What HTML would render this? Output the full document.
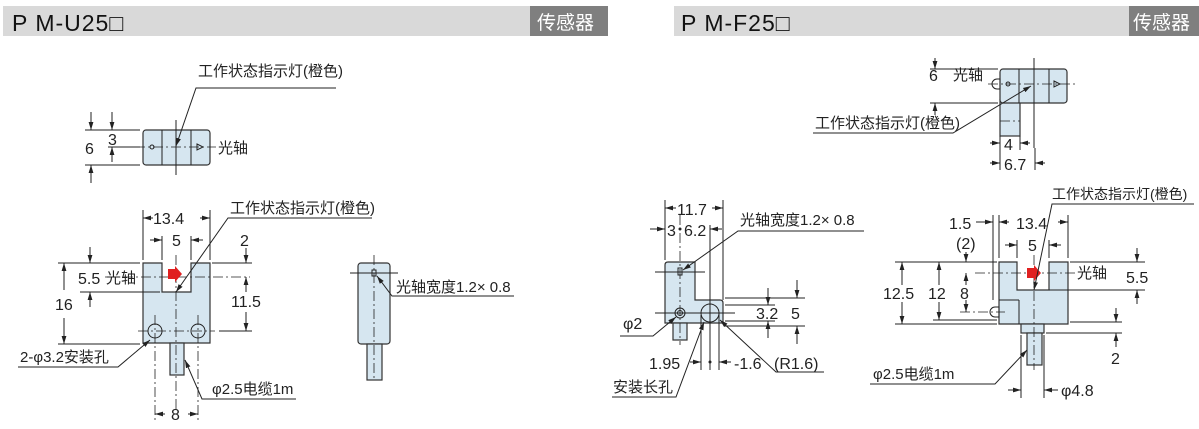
<!DOCTYPE html>
<html><head><meta charset="utf-8"><style>
html,body{margin:0;padding:0;background:#fff;}
svg{display:block;}
text{font-family:"Liberation Sans","Noto Sans CJK SC",sans-serif;font-size:15px;fill:#222;}
.d{font-size:16px;}
.h{font-family:"Liberation Sans Narrow","Liberation Sans","Noto Sans CJK SC",sans-serif;font-size:23px;fill:#111;letter-spacing:1px;}
.t{font-size:19px;fill:#fff;}
.l{stroke:#222;stroke-width:1;fill:none;}
.c{stroke:#222;stroke-width:0.8;fill:none;stroke-dasharray:10 3 2 3;}
.b{stroke:#333;stroke-width:1.2;fill:#d6e6f0;}
</style></head><body>
<svg width="1199" height="429" viewBox="0 0 1199 429" xmlns="http://www.w3.org/2000/svg">
<defs><marker id="a" viewBox="0 0 10 6" refX="10" refY="3" markerWidth="8" markerHeight="5" orient="auto"><path d="M0,0L10,3L0,6z" fill="#222"/></marker></defs>
<!-- headers -->
<rect x="3" y="6" width="527" height="30" fill="#d9d9d9"/><rect x="530" y="6" width="78" height="30" fill="#7f7f7f"/>
<text class="h" x="12" y="31">P M-U25□</text><text class="t" x="537" y="29">传感器</text>
<rect x="674" y="6" width="455" height="30" fill="#d9d9d9"/><rect x="1129" y="6" width="70" height="30" fill="#7f7f7f"/>
<text class="h" x="681" y="31">P M-F25□</text><text class="t" x="1133" y="29">传感器</text>

<!-- TOP LEFT -->
<rect class="b" x="143" y="130" width="67" height="35" rx="3"/>
<line class="l" x1="162" y1="130" x2="162" y2="165"/><line class="l" x1="191" y1="130" x2="191" y2="165"/>
<line class="c" x1="135" y1="147" x2="216" y2="147"/><line class="l" x1="176" y1="120" x2="176" y2="175"/>
<circle cx="152" cy="147" r="2" class="l"/><path d="M197,144L203,147L197,150z" class="l"/>
<line class="l" x1="85" y1="130" x2="140" y2="130"/><line class="l" x1="85" y1="165" x2="140" y2="165"/><line class="l" x1="108" y1="147" x2="140" y2="147"/>
<line class="l" x1="91" y1="112" x2="91" y2="130" marker-end="url(#a)"/><line class="l" x1="91" y1="183" x2="91" y2="165" marker-end="url(#a)"/>
<line class="l" x1="112" y1="112" x2="112" y2="130" marker-end="url(#a)"/><line class="l" x1="112" y1="162" x2="112" y2="147" marker-end="url(#a)"/>
<text class="d" x="85" y="154">6</text><text class="d" x="108" y="145">3</text>
<text x="218" y="153">光轴</text>
<text x="198" y="76">工作状态指示灯(橙色)</text><polyline class="l" points="336,88 196,88 176,146" marker-end="url(#a)"/>

<!-- MID LEFT front -->
<path class="b" d="M143,263H162V292H191V263H210V343H143Z"/>
<rect class="b" x="170" y="343" width="14" height="32"/>
<line class="c" x1="176" y1="255" x2="176" y2="410"/>
<line class="c" x1="105" y1="277" x2="250" y2="277"/>
<line class="c" x1="138" y1="331" x2="215" y2="331"/>
<circle class="l" cx="155" cy="331" r="7" fill="#e8f0f5"/><circle class="l" cx="198" cy="331" r="7" fill="#e8f0f5"/>
<line class="c" x1="155" y1="315" x2="155" y2="420"/><line class="c" x1="198" y1="315" x2="198" y2="420"/>
<path d="M168,269h7v-3l7,8l-7,8v-3h-7z" fill="#e02020"/>
<line class="l" x1="143" y1="210" x2="143" y2="260"/><line class="l" x1="210" y1="210" x2="210" y2="260"/>
<line class="l" x1="162" y1="236" x2="162" y2="260"/><line class="l" x1="191" y1="236" x2="191" y2="260"/>
<line class="l" x1="153" y1="218" x2="143" y2="218" marker-end="url(#a)"/><line class="l" x1="200" y1="218" x2="210" y2="218" marker-end="url(#a)"/>
<text class="d" x="153" y="224">13.4</text>
<line class="l" x1="150" y1="240" x2="162" y2="240" marker-end="url(#a)"/><line class="l" x1="203" y1="240" x2="191" y2="240" marker-end="url(#a)"/>
<text class="d" x="172" y="246">5</text>
<line class="l" x1="58" y1="263" x2="140" y2="263"/><line class="l" x1="58" y1="344" x2="140" y2="344"/>
<line class="l" x1="64" y1="290" x2="64" y2="263" marker-end="url(#a)"/><line class="l" x1="64" y1="318" x2="64" y2="344" marker-end="url(#a)"/>
<text class="d" x="55" y="310">16</text>
<line class="l" x1="80" y1="292" x2="160" y2="292"/>
<line class="l" x1="90" y1="247" x2="90" y2="263" marker-end="url(#a)"/><line class="l" x1="90" y1="307" x2="90" y2="292" marker-end="url(#a)"/>
<text class="d" x="78" y="284">5.5</text><text x="106" y="283">光轴</text>
<line class="l" x1="212" y1="263" x2="252" y2="263"/><line class="l" x1="219" y1="331" x2="252" y2="331"/>
<line class="l" x1="246" y1="248" x2="246" y2="263" marker-end="url(#a)"/><line class="l" x1="246" y1="292" x2="246" y2="277" marker-end="url(#a)"/>
<line class="l" x1="246" y1="312" x2="246" y2="331" marker-end="url(#a)"/>
<text class="d" x="240" y="246">2</text><text class="d" x="231" y="307">11.5</text>
<text x="230" y="213">工作状态指示灯(橙色)</text><polyline class="l" points="372,218 228,218 176,292" marker-end="url(#a)"/>
<text x="20" y="362">2-φ3.2安装孔</text><polyline class="l" points="18,367 118,367 150,340" marker-end="url(#a)"/>
<text x="212" y="394">φ2.5电缆1m</text><polyline class="l" points="296,399 202,399 185,360" marker-end="url(#a)"/>
<line class="l" x1="165" y1="414" x2="155" y2="414" marker-end="url(#a)"/><line class="l" x1="188" y1="414" x2="198" y2="414" marker-end="url(#a)"/>
<text class="d" x="171" y="420">8</text>

<!-- side view -->
<rect class="b" x="358" y="263" width="32" height="81" rx="3"/>
<rect class="b" x="367" y="344" width="15" height="36"/>
<line class="c" x1="374" y1="255" x2="374" y2="380"/><line class="l" x1="350" y1="273" x2="398" y2="273"/>
<rect x="372" y="270" width="4" height="6" class="l" fill="#fff"/>
<text x="396" y="292">光轴宽度1.2× 0.8</text><polyline class="l" points="514,296 392,296 377,276" marker-end="url(#a)"/>

<!-- TOP RIGHT -->
<rect class="b" x="1000" y="100" width="20" height="36"/>
<rect class="b" x="1000" y="69" width="67" height="34" rx="3"/>
<line class="l" x1="1019" y1="69" x2="1019" y2="103"/><line class="l" x1="1049" y1="69" x2="1049" y2="103"/>
<line class="c" x1="1000" y1="121" x2="1020" y2="121"/>
<line class="l" x1="1034" y1="58" x2="1034" y2="148"/>
<line class="c" x1="988" y1="84" x2="1075" y2="84"/>
<path d="M1000,79h-3a5,5 0 0 0 0,10h3z" class="l" fill="#d6e6f0"/>
<circle cx="1008" cy="84" r="2" class="l"/><path d="M1054,81L1060,84L1054,87z" class="l"/>
<line class="l" x1="930" y1="69" x2="998" y2="69"/><line class="l" x1="930" y1="103" x2="998" y2="103"/>
<line class="l" x1="935" y1="58" x2="935" y2="69" marker-end="url(#a)"/><line class="l" x1="935" y1="115" x2="935" y2="103" marker-end="url(#a)"/>
<text class="d" x="929" y="81">6</text><text x="953" y="80">光轴</text>
<text x="815" y="128">工作状态指示灯(橙色)</text><polyline class="l" points="813,133 953,133 1031,86" marker-end="url(#a)"/>
<line class="l" x1="1000" y1="136" x2="1000" y2="170"/><line class="l" x1="1020" y1="136" x2="1020" y2="150"/><line class="l" x1="1035" y1="148" x2="1035" y2="170"/>
<line class="l" x1="990" y1="143" x2="1000" y2="143" marker-end="url(#a)"/><line class="l" x1="1030" y1="143" x2="1020" y2="143" marker-end="url(#a)"/>
<text class="d" x="1004" y="150">4</text>
<line class="l" x1="990" y1="163" x2="1000" y2="163" marker-end="url(#a)"/><line class="l" x1="1045" y1="163" x2="1035" y2="163" marker-end="url(#a)"/>
<text class="d" x="1004" y="170">6.7</text>

<!-- MID RIGHT A (side) -->
<path class="b" d="M665,265q0,-3 3,-3H695V300H720q3,0 3,3V323H665Z"/>
<rect class="b" x="673" y="323" width="14" height="17"/>
<line class="c" x1="680" y1="215" x2="680" y2="345"/>
<line class="l" x1="655" y1="272" x2="705" y2="272"/>
<line class="l" x1="655" y1="313" x2="735" y2="313"/>
<rect x="678" y="268" width="4" height="7" class="l" fill="#fff"/>
<circle cx="680" cy="313" r="5" class="l" fill="#e8f0f5"/><circle cx="680" cy="313" r="2.5" class="l"/>
<circle cx="710" cy="313" r="9" class="l" fill="#fff"/>
<line class="l" x1="665" y1="200" x2="665" y2="260"/><line class="l" x1="723" y1="200" x2="723" y2="300"/>
<line class="l" x1="710" y1="225" x2="710" y2="370"/><line class="l" x1="701" y1="315" x2="701" y2="370"/><line class="l" x1="719" y1="313" x2="719" y2="370"/>
<line class="l" x1="676" y1="208" x2="665" y2="208" marker-end="url(#a)"/><line class="l" x1="712" y1="208" x2="723" y2="208" marker-end="url(#a)"/>
<text class="d" x="677" y="215">11.7</text>
<line class="l" x1="650" y1="229" x2="665" y2="229" marker-end="url(#a)"/><line class="l" x1="722" y1="229" x2="710" y2="229" marker-end="url(#a)"/>
<circle cx="680" cy="229" r="1.5" fill="#222"/>
<text class="d" x="667" y="236">3</text><text class="d" x="684" y="236">6.2</text>
<text x="740" y="225">光轴宽度1.2× 0.8</text><polyline class="l" points="864,231 738,231 683,270" marker-end="url(#a)"/>
<line class="l" x1="725" y1="298" x2="805" y2="298"/><line class="l" x1="725" y1="326" x2="805" y2="326"/><line class="l" x1="725" y1="305" x2="775" y2="305"/><line class="l" x1="725" y1="321" x2="775" y2="321"/>
<line class="l" x1="768" y1="288" x2="768" y2="305" marker-end="url(#a)"/><line class="l" x1="768" y1="338" x2="768" y2="321" marker-end="url(#a)"/>
<text class="d" x="756" y="319">3.2</text>
<line class="l" x1="797" y1="280" x2="797" y2="298" marker-end="url(#a)"/><line class="l" x1="797" y1="344" x2="797" y2="326" marker-end="url(#a)"/>
<text class="d" x="791" y="319">5</text>
<text class="d" x="623" y="329">φ2</text><polyline class="l" points="620,336 653,336 676,317" marker-end="url(#a)"/>
<line class="l" x1="690" y1="362" x2="701" y2="362" marker-end="url(#a)"/><circle cx="710" cy="362" r="1.5" fill="#222"/>
<line class="l" x1="731" y1="362" x2="719" y2="362" marker-end="url(#a)"/>
<text class="d" x="649" y="369">1.95</text><text class="d" x="734" y="369">-1.6</text>
<text class="d" x="774" y="369">(R1.6)</text><polyline class="l" points="824,372 776,372 720,320" marker-end="url(#a)"/>
<text x="613" y="392">安装长孔</text><polyline class="l" points="612,397 676,397 704,322" marker-end="url(#a)"/>

<!-- MID RIGHT B (front) -->
<path class="b" d="M999,262H1017V290H1049V262H1068V324H999Z"/>
<line class="l" x1="999" y1="300" x2="1019" y2="300"/><line class="l" x1="1019" y1="300" x2="1019" y2="324"/>
<rect class="b" x="1021" y="324" width="23" height="9"/>
<rect class="b" x="1027" y="333" width="15" height="32"/>
<path d="M999,307h-4a5,5 0 0 0 0,10h4z" class="l" fill="#d6e6f0"/>
<line class="c" x1="1034" y1="255" x2="1034" y2="370"/>
<line class="c" x1="975" y1="273" x2="1075" y2="273"/>
<line class="c" x1="960" y1="312" x2="1005" y2="312"/>
<path d="M1027,268h7v-3l7,8l-7,8v-3h-7z" fill="#e02020"/>
<line class="l" x1="999" y1="215" x2="999" y2="258"/><line class="l" x1="1068" y1="215" x2="1068" y2="258"/>
<line class="l" x1="993" y1="215" x2="993" y2="300"/>
<line class="l" x1="1017" y1="240" x2="1017" y2="258"/><line class="l" x1="1049" y1="240" x2="1049" y2="258"/>
<line class="l" x1="1009" y1="222" x2="999" y2="222" marker-end="url(#a)"/><line class="l" x1="1058" y1="222" x2="1068" y2="222" marker-end="url(#a)"/>
<text class="d" x="1016" y="229">13.4</text>
<line class="l" x1="976" y1="222" x2="993" y2="222" marker-end="url(#a)"/><text class="d" x="949" y="229">1.5</text>
<line class="l" x1="1005" y1="245" x2="1017" y2="245" marker-end="url(#a)"/><line class="l" x1="1061" y1="245" x2="1049" y2="245" marker-end="url(#a)"/>
<text class="d" x="1028" y="251">5</text>
<text class="d" x="956" y="249">(2)</text><line class="l" x1="966" y1="252" x2="966" y2="262" marker-end="url(#a)"/>
<line class="l" x1="895" y1="262" x2="997" y2="262"/><line class="l" x1="895" y1="324" x2="997" y2="324"/><line class="l" x1="933" y1="320" x2="997" y2="320"/>
<line class="l" x1="902" y1="285" x2="902" y2="262" marker-end="url(#a)"/><line class="l" x1="902" y1="302" x2="902" y2="324" marker-end="url(#a)"/>
<text class="d" x="883" y="299">12.5</text>
<line class="l" x1="939" y1="285" x2="939" y2="262" marker-end="url(#a)"/><line class="l" x1="939" y1="302" x2="939" y2="320" marker-end="url(#a)"/>
<text class="d" x="928" y="299">12</text>
<line class="l" x1="966" y1="285" x2="966" y2="273" marker-end="url(#a)"/><line class="l" x1="966" y1="300" x2="966" y2="312" marker-end="url(#a)"/>
<text class="d" x="960" y="299">8</text>
<text x="1077" y="278">光轴</text>
<line class="l" x1="1070" y1="262" x2="1145" y2="262"/><line class="l" x1="1049" y1="290" x2="1145" y2="290"/>
<line class="l" x1="1137" y1="248" x2="1137" y2="262" marker-end="url(#a)"/><line class="l" x1="1137" y1="304" x2="1137" y2="290" marker-end="url(#a)"/>
<text class="d" x="1126" y="283">5.5</text>
<line class="l" x1="1070" y1="322" x2="1122" y2="322"/><line class="l" x1="1046" y1="333" x2="1122" y2="333"/>
<line class="l" x1="1116" y1="308" x2="1116" y2="322" marker-end="url(#a)"/><line class="l" x1="1116" y1="347" x2="1116" y2="333" marker-end="url(#a)"/>
<text class="d" x="1111" y="364">2</text>
<text x="1052" y="199" style="font-size:14px">工作状态指示灯(橙色)</text><polyline class="l" points="1194,204 1052,204 1034,290" marker-end="url(#a)"/>
<text x="873" y="379">φ2.5电缆1m</text><polyline class="l" points="870,384 995,384 1027,350" marker-end="url(#a)"/>
<line class="l" x1="1021" y1="335" x2="1021" y2="398"/><line class="l" x1="1044" y1="335" x2="1044" y2="398"/>
<line class="l" x1="1008" y1="390" x2="1021" y2="390" marker-end="url(#a)"/><line class="l" x1="1058" y1="390" x2="1044" y2="390" marker-end="url(#a)"/>
<text class="d" x="1061" y="396">φ4.8</text>
</svg>
</body></html>
